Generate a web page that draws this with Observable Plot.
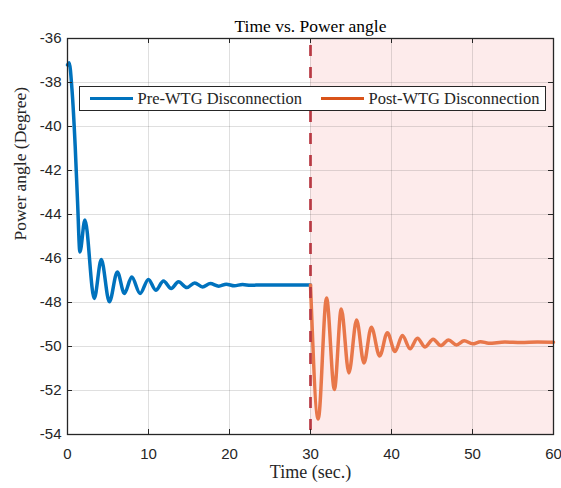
<!DOCTYPE html>
<html>
<head>
<meta charset="utf-8">
<script src="https://cdn.jsdelivr.net/npm/d3@7"></script>
<script src="https://cdn.jsdelivr.net/npm/@observablehq/plot@0.6"></script>
<style>
  body { margin: 0; background: #fff; }
  #wrap { position: relative; width: 561px; height: 488px; }
  #legend { position: absolute; left: 79px; top: 86px; width: 465px; height: 23px;
    border: 1.5px solid #262626; background: #fff; display: flex; align-items: center;
    font-family: "Liberation Serif", serif; font-size: 16.5px; color: #262626; white-space: nowrap; }
  .item { display: flex; align-items: center; }
  .swatch { width: 43px; height: 3.5px; margin: 0 5px 0 5px; }
</style>
</head>
<body>
<div id="wrap"><div id="legend"></div></div>
<script>
// ---- text ----
const titleText = "Time vs. Power angle";
const xLabel = "Time (sec.)";
const yLabel = "Power angle (Degree)";
const seriesNames = ["Pre-WTG Disconnection", "Post-WTG Disconnection"];

// ---- ticks ----
const xTicks = [0, 10, 20, 30, 40, 50, 60];
const yTicks = [-54, -52, -50, -48, -46, -44, -42, -40, -38, -36];

// ---- disconnection event / shaded region ----
const eventTime = [30];
const shade = [{start: 30, end: 60}];

// ---- series (extrema and key points) ----
const preT = [0, 0.2, 0.55, 0.95, 1.25, 1.53, 2.15, 3.3, 4.17, 5.17, 6.15, 7.02, 7.93, 8.96, 9.99, 10.9, 11.85, 12.8, 13.7, 14.74, 15.7, 16.67, 17.63, 18.67, 19.6, 20.6, 21.6, 22.6, 24, 26, 28, 30];
const preV = [-37.2, -37.1, -38.3, -40.9, -43.5, -45.7, -44.25, -47.82, -46.05, -47.97, -46.61, -47.59, -46.84, -47.59, -46.95, -47.44, -47.02, -47.36, -47.06, -47.32, -47.11, -47.29, -47.14, -47.26, -47.17, -47.24, -47.18, -47.22, -47.2, -47.21, -47.2, -47.2];

const postT = [30, 30.95, 31.98, 32.95, 33.8, 34.74, 35.69, 36.6, 37.51, 38.54, 39.49, 40.43, 41.35, 42.29, 43.2, 44.15, 45.14, 46.09, 47.04, 48.03, 48.97, 50.01, 51, 52, 54, 56, 58, 60];
const postV = [-47.2, -53.3, -47.8, -51.95, -48.3, -51.2, -48.8, -50.75, -49.12, -50.43, -49.37, -50.23, -49.5, -50.1, -49.62, -50.02, -49.67, -49.96, -49.7, -49.93, -49.74, -49.88, -49.78, -49.85, -49.8, -49.82, -49.8, -49.81];

const pre = preT.map((t, i) => ({t, v: preV[i]}));
const post = postT.map((t, i) => ({t, v: postV[i]}));

const W = 561, H = 488, mL = 67, mR = 8, mT = 38, mB = 54;
const pw = W - mL - mR, ph = H - mT - mB;
const tickLen = 5;
const ink = "#262626";
const serif = "Liberation Serif, serif";
const sans = "Liberation Sans, Arial, sans-serif";

const chart = Plot.plot({
  width: W, height: H,
  marginLeft: mL, marginRight: mR, marginTop: mT, marginBottom: mB,
  style: {background: "#fff", overflow: "visible"},
  x: {domain: [0, 60]},
  y: {domain: [-54, -36]},
  marks: [
    Plot.rect(shade, {x1: "start", x2: "end", fill: "#fdebeb"}),
    Plot.ruleX(xTicks, {stroke: ink, strokeOpacity: 0.15, strokeWidth: 1}),
    Plot.ruleY(yTicks, {stroke: ink, strokeOpacity: 0.15, strokeWidth: 1}),
    Plot.line(pre, {x: "t", y: "v", stroke: "#0072BD", strokeWidth: 3.5, curve: "monotone-x"}),
    Plot.line(post, {x: "t", y: "v", stroke: "#E8774A", strokeWidth: 3.5, curve: "monotone-x"}),
    Plot.ruleX(eventTime, {stroke: "#B83A44", strokeWidth: 2.7, strokeDasharray: "11,11", strokeDashoffset: 15}),
    Plot.tickX(xTicks, {x: d => d, insetTop: ph - tickLen, stroke: ink}),
    Plot.tickX(xTicks, {x: d => d, insetBottom: ph - tickLen, stroke: ink}),
    Plot.tickY(yTicks, {y: d => d, insetRight: pw - tickLen, stroke: ink}),
    Plot.tickY(yTicks, {y: d => d, insetLeft: pw - tickLen, stroke: ink}),
    Plot.frame({stroke: ink, strokeWidth: 1.3}),
    Plot.axisX({ticks: xTicks, tickSize: 0, tickPadding: 14, fontSize: 15, fontFamily: sans, color: ink, label: null, tickFormat: d => String(d)}),
    Plot.axisY({ticks: yTicks, tickSize: 0, tickPadding: 6, fontSize: 15, fontFamily: sans, color: ink, label: null, tickFormat: d => String(d)}),
    Plot.text([titleText], {text: d => d, frameAnchor: "top", dy: -19, fontSize: 17.5, fontFamily: serif, fill: "#000"}),
    Plot.text([xLabel], {text: d => d, frameAnchor: "bottom", dy: 43, fontSize: 18, fontFamily: serif, fill: ink}),
    Plot.text([yLabel], {text: d => d, frameAnchor: "left", dx: -47, dy: 4, rotate: -90, fontSize: 17.5, fontFamily: serif, fill: ink})
  ]
});
document.getElementById("wrap").prepend(chart);

const legendColors = ["#0072BD", "#D95319"];
const legend = document.getElementById("legend");
seriesNames.forEach((name, i) => {
  const item = document.createElement("div");
  item.className = "item";
  item.style.marginLeft = i === 0 ? "4.5px" : "13.5px";
  const sw = document.createElement("span");
  sw.className = "swatch";
  sw.style.background = legendColors[i];
  const tx = document.createElement("span");
  tx.textContent = name;
  item.append(sw, tx);
  legend.append(item);
});
</script>
</body>
</html>
